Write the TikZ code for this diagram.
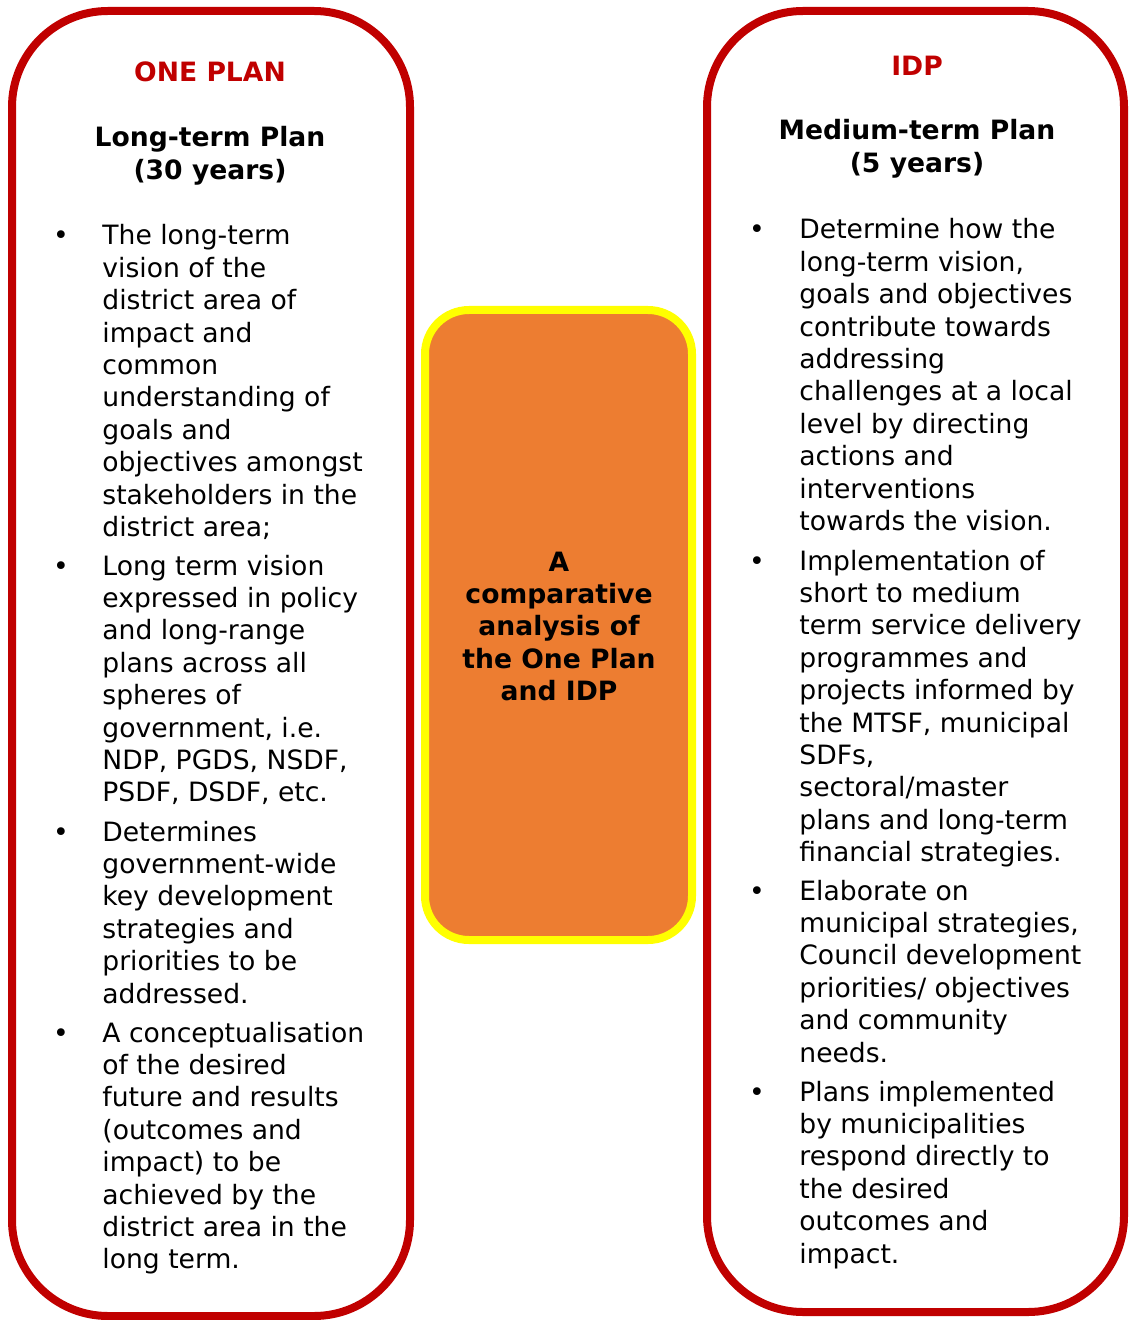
\documentclass[tikz,border=0pt]{standalone}
\usepackage{fontspec}
\setmainfont{DejaVu Sans}
\definecolor{planred}{HTML}{C00000}
\definecolor{planorange}{HTML}{ED7D31}
\definecolor{planyellow}{HTML}{FFFF00}
\newcommand{\planfont}{\fontsize{13.3pt}{16.2pt}\selectfont}
\newcommand{\stack}[2][l]{\begin{tabular}[t]{@{}#1@{}}#2\end{tabular}}

\begin{document}
\begin{tikzpicture}[
    x=0.5pt, y=-0.5pt,
    panel/.style={draw=planred, line width=4pt, rounded corners=48pt, inner sep=0pt},
    hub/.style={draw=planyellow, fill=planorange, line width=4pt, rounded corners=22pt, inner sep=0pt},
    title/.style={font=\planfont\bfseries, text=planred, anchor=base, inner sep=0pt},
    heading/.style={font=\planfont\bfseries, anchor=base, inner sep=0pt},
    dot/.style={font=\planfont, anchor=base, inner sep=0pt},
    entry/.style={font=\planfont, anchor=base west, inner sep=0pt}
  ]
    \useasboundingbox (0,0) rectangle (1128,1320);

    % frames
    \node[panel, minimum width=199pt, minimum height=652.5pt] (oneplan) at (211,663.5) {};
    \node[panel, minimum width=208.5pt, minimum height=650.5pt] (idp) at (915.5,661.5) {};
    \node[hub, minimum width=133.5pt, minimum height=315pt] (hub) at (558.5,625) {};

    % centre
    \node[heading] (hubtext) at (559,571) {\stack[c]{A\\comparative\\analysis of\\the One Plan\\and IDP}};

    % one plan
    \node[title] (onetitle) at (210,82) {ONE PLAN};
    \node[heading] (onehead) at (210,147) {\stack[c]{Long-term Plan\\(30 years)}};

    \node[dot] (od1) at (61,245) {\textbullet};
    \node[entry] (oe1) at (102,245) {\stack{The long-term\\vision of the\\district area of\\impact and\\common\\understanding of\\goals and\\objectives amongst\\stakeholders in the\\district area;}};
    \node[dot] (od2) at (61,575) {\textbullet};
    \node[entry] (oe2) at (102,575) {\stack{Long term vision\\expressed in policy\\and long-range\\plans across all\\spheres of\\government, i.e.\\NDP, PGDS, NSDF,\\PSDF, DSDF, etc.}};
    \node[dot] (od3) at (61,841) {\textbullet};
    \node[entry] (oe3) at (102,841) {\stack{Determines\\government-wide\\key development\\strategies and\\priorities to be\\addressed.}};
    \node[dot] (od4) at (61,1042) {\textbullet};
    \node[entry] (oe4) at (102,1042) {\stack{A conceptualisation\\of the desired\\future and results\\(outcomes and\\impact) to be\\achieved by the\\district area in the\\long term.}};

    % idp
    \node[title] (idptitle) at (917,76) {IDP};
    \node[heading] (idphead) at (917,140) {\stack[c]{Medium-term Plan\\(5 years)}};

    \node[dot] (id1) at (757,239) {\textbullet};
    \node[entry] (ie1) at (799,239) {\stack{Determine how the\\long-term vision,\\goals and objectives\\contribute towards\\addressing\\challenges at a local\\level by directing\\actions and\\interventions\\towards the vision.}};
    \node[dot] (id2) at (757,570) {\textbullet};
    \node[entry] (ie2) at (799,570) {\stack{Implementation of\\short to medium\\term service delivery\\programmes and\\projects informed by\\the MTSF, municipal\\SDFs,\\sectoral/master\\plans and long-term\\financial strategies.}};
    \node[dot] (id3) at (757,900) {\textbullet};
    \node[entry] (ie3) at (799,900) {\stack{Elaborate on\\municipal strategies,\\Council development\\priorities/ objectives\\and community\\needs.}};
    \node[dot] (id4) at (757,1101) {\textbullet};
    \node[entry] (ie4) at (799,1101) {\stack{Plans implemented\\by municipalities\\respond directly to\\the desired\\outcomes and\\impact.}};
  \end{tikzpicture}
\end{document}
